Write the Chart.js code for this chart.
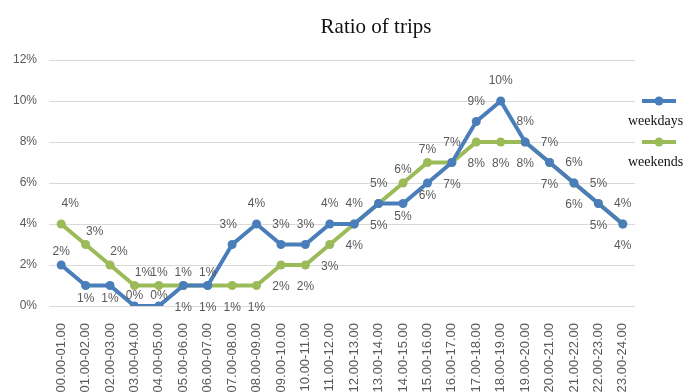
<!DOCTYPE html>
<html>
<head>
<meta charset="utf-8">
<title>Ratio of trips</title>
<script src="https://cdn.jsdelivr.net/npm/chart.js@4"></script>
<style>
  html, body { margin: 0; padding: 0; background: #fff; overflow: hidden; }
  #wrap { width: 683px; height: 392px; }
</style>
</head>
<body>
<div id="wrap"><canvas id="tripChart" width="683" height="392"></canvas></div>
<script>
const hours = [
  "00.00-01.00", "01.00-02.00", "02.00-03.00", "03.00-04.00", "04.00-05.00", "05.00-06.00",
  "06.00-07.00", "07.00-08.00", "08.00-09.00", "09.00-10.00", "10.00-11.00", "11.00-12.00",
  "12.00-13.00", "13.00-14.00", "14.00-15.00", "15.00-16.00", "16.00-17.00", "17.00-18.00",
  "18.00-19.00", "19.00-20.00", "20.00-21.00", "21.00-22.00", "22.00-23.00", "23.00-24.00"
];

const weekdays = [2, 1, 1, 0, 0, 1, 1, 3, 4, 3, 3, 4, 4, 5, 5, 6, 7, 9, 10, 8, 7, 6, 5, 4];
const weekends = [4, 3, 2, 1, 1, 1, 1, 1, 1, 2, 2, 3, 4, 5, 6, 7, 7, 8, 8, 8, 7, 6, 5, 4];

const yTicks = [0, 2, 4, 6, 8, 10, 12];

// where each value label sits: A/a above (far/near), B/b below, n just above, r/l nudge sideways
const weekdaysLabelPos = ["a", "b", "b", "n", "n", "a", "a", "Al", "A", "A", "A", "A", "A", "B", "b", "b", "B", "A", "A", "A", "A", "A", "A", "A"];
const weekendsLabelPos = ["Ar", "ar", "ar", "ar", "a", "B", "B", "B", "B", "B", "B", "B", "B", "A", "a", "a", "A", "B", "B", "B", "B", "B", "B", "B"];

const labelDy = { A: -20, a: -13, n: -10, B: 22, b: 13 };
const labelDx = { r: 9, l: -4 };

const valueLabels = {
  id: "valueLabels",
  afterDatasetsDraw(chart) {
    const ctx = chart.ctx;
    ctx.save();
    ctx.font = '12px "Liberation Sans", Arial, sans-serif';
    ctx.fillStyle = "#595959";
    ctx.textAlign = "center";
    ctx.textBaseline = "middle";
    chart.data.datasets.forEach((ds, di) => {
      const meta = chart.getDatasetMeta(di);
      meta.data.forEach((pt, i) => {
        const code = ds.labelPos[i] || "A";
        const dy = labelDy[code[0]];
        const dx = code[1] ? labelDx[code[1]] : 0;
        ctx.fillText(ds.data[i] + "%", pt.x + dx, pt.y + dy);
      });
    });
    ctx.restore();
  }
};

// title and the stacked legend on the right
const titleAndLegend = {
  id: "titleAndLegend",
  afterDraw(chart) {
    const ctx = chart.ctx;
    ctx.save();
    ctx.fillStyle = "#111";
    ctx.textAlign = "center";
    ctx.textBaseline = "middle";
    ctx.font = '21px "Liberation Serif", "Times New Roman", serif';
    ctx.fillText("Ratio of trips", 376, 27);

    ctx.font = '14px "Liberation Serif", "Times New Roman", serif';
    ctx.textAlign = "left";
    chart.data.datasets.forEach((ds, i) => {
      const y = 101 + i * 41;
      ctx.strokeStyle = ds.borderColor;
      ctx.lineWidth = 4;
      ctx.beginPath();
      ctx.moveTo(642, y);
      ctx.lineTo(676, y);
      ctx.stroke();
      ctx.fillStyle = ds.borderColor;
      ctx.beginPath();
      ctx.arc(659, y, 4.5, 0, Math.PI * 2);
      ctx.fill();
      ctx.fillStyle = "#111";
      ctx.fillText(ds.label, 628, y + 20);
    });
    ctx.restore();
  }
};

new Chart(document.getElementById("tripChart"), {
  type: "line",
  data: {
    labels: hours,
    datasets: [
      {
        label: "weekdays",
        data: weekdays,
        labelPos: weekdaysLabelPos,
        borderColor: "#4a7ebb",
        backgroundColor: "#4a7ebb",
        borderWidth: 4,
        pointRadius: 4.5,
        pointBorderWidth: 0,
        tension: 0
      },
      {
        label: "weekends",
        data: weekends,
        labelPos: weekendsLabelPos,
        borderColor: "#9bbb59",
        backgroundColor: "#9bbb59",
        borderWidth: 4,
        pointRadius: 4.5,
        pointBorderWidth: 0,
        tension: 0
      }
    ]
  },
  options: {
    responsive: false,
    animation: false,
    layout: { padding: { top: 60, right: 48, left: 0, bottom: 0 } },
    plugins: {
      legend: { display: false },
      title: { display: false },
      tooltip: { enabled: false }
    },
    scales: {
      x: {
        offset: true,
        grid: { display: false },
        border: { display: false },
        ticks: {
          autoSkip: false,
          minRotation: 90,
          maxRotation: 90,
          padding: 9,
          color: "#595959",
          font: { family: '"Liberation Sans", Arial, sans-serif', size: 13 }
        },
        afterFit: scale => { scale.height = 86; }
      },
      y: {
        min: yTicks[0],
        max: yTicks[yTicks.length - 1],
        border: { display: false },
        grid: { color: "#d9d9d9", lineWidth: 1, drawTicks: false },
        ticks: {
          stepSize: yTicks[1] - yTicks[0],
          padding: 12,
          color: "#595959",
          font: { family: '"Liberation Sans", Arial, sans-serif', size: 12 },
          callback: v => v + "%"
        },
        afterFit: scale => { scale.width = 49; }
      }
    }
  },
  plugins: [valueLabels, titleAndLegend]
});
</script>
</body>
</html>
